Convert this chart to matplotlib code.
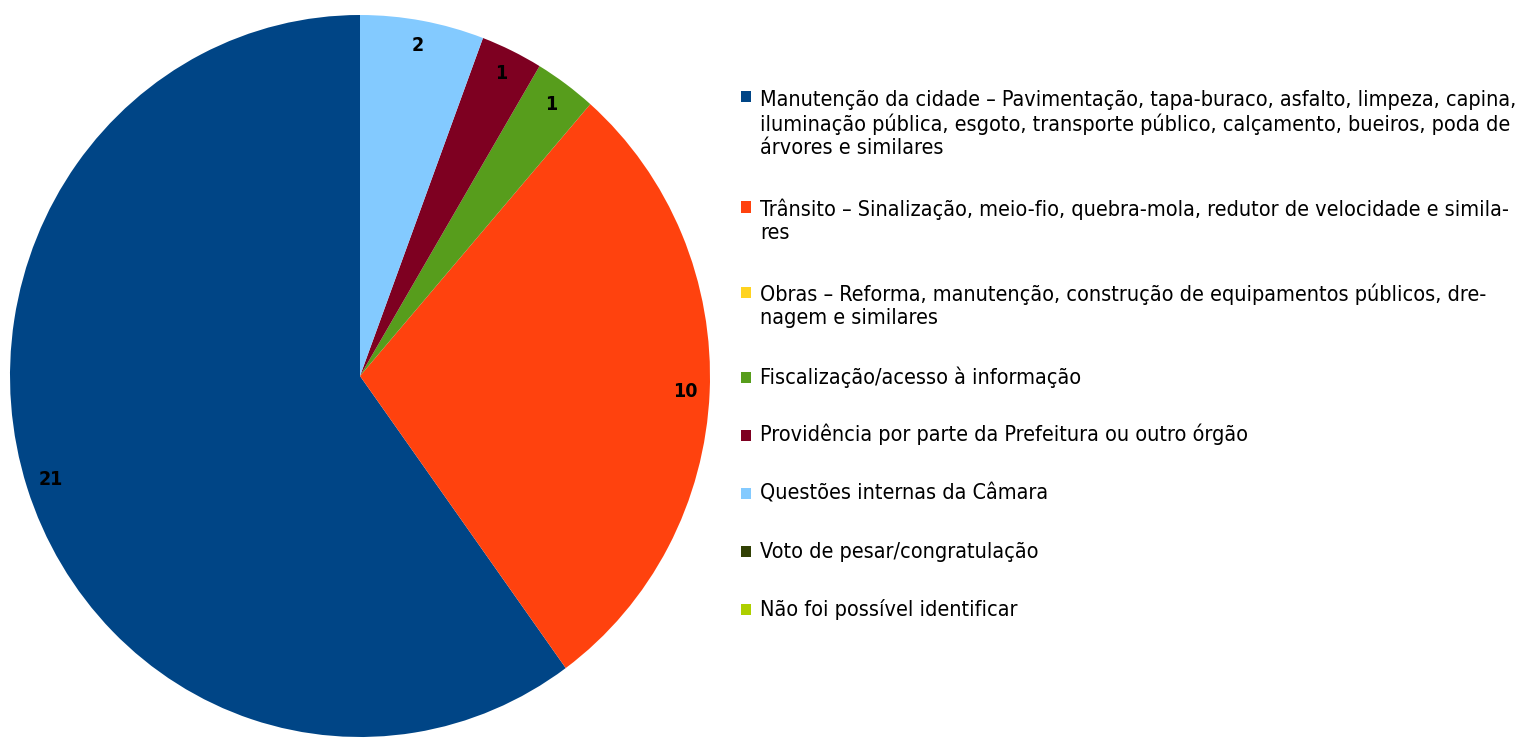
import matplotlib.pyplot as plt
from matplotlib.patches import Rectangle

# data
categorias = [
    "Manutenção da cidade – Pavimentação, tapa-buraco, asfalto, limpeza, capina,\n"
    "iluminação pública, esgoto, transporte público, calçamento, bueiros, poda de\n"
    "árvores e similares",
    "Trânsito – Sinalização, meio-fio, quebra-mola, redutor de velocidade e simila-\nres",
    "Obras – Reforma, manutenção, construção de equipamentos públicos, dre-\nnagem e similares",
    "Fiscalização/acesso à informação",
    "Providência por parte da Prefeitura ou outro órgão",
    "Questões internas da Câmara",
    "Voto de pesar/congratulação",
    "Não foi possível identificar",
]
valores = [21, 10, 0, 1, 1, 2, 0, 0]
cores = ["#004586", "#ff420e", "#ffd320", "#579d1c", "#7e0021", "#83caff", "#314004", "#aecf00"]

fonte = ["DejaVu Sans"]
W, H = 1525, 738

fig = plt.figure(figsize=(W / 100, H / 100), dpi=100)
# pie area in pixels: x 10..710, y 15..737
ax = fig.add_axes([10 / W, 1 / H, 700 / W, 722 / H])


def rotulo(pct):
    v = round(pct * sum(valores) / 100)
    return str(v) if v > 0 else ""


wedges, _, autotexts = ax.pie(valores, colors=cores, startangle=90, counterclock=True,
                              autopct=rotulo, pctdistance=0.93, radius=1,
                              wedgeprops=dict(linewidth=0))
for t in autotexts:
    t.set_fontfamily(fonte)
    t.set_fontstretch("condensed")
    t.set_fontsize(14)
    t.set_fontweight("bold")
    t.set_color("black")
ax.set_aspect("auto")
ax.set_xlim(-1, 1)
ax.set_ylim(-1, 1)

# legend drawn by hand so the square sits on the first line
y = 103  # baseline of first line, pixels from top
for cat, cor in zip(categorias, cores):
    nlin = cat.count("\n") + 1
    fig.patches.append(Rectangle((741 / W, 1 - (y - 1) / H), 10 / W, 11 / H,
                                 transform=fig.transFigure, facecolor=cor,
                                 edgecolor="none"))
    # multi-line text with va="baseline" sits on its last line
    fig.text(760 / W, 1 - (y + (nlin - 1) * 25.5) / H, cat, fontsize=15.5, family=fonte,
             stretch="condensed", va="baseline", ha="left", linespacing=1.18,
             color="black")
    y += (nlin - 1) * 25.5 + 58 + (1.5 if nlin > 1 else 0)

fig.savefig("out.png", dpi=100)
